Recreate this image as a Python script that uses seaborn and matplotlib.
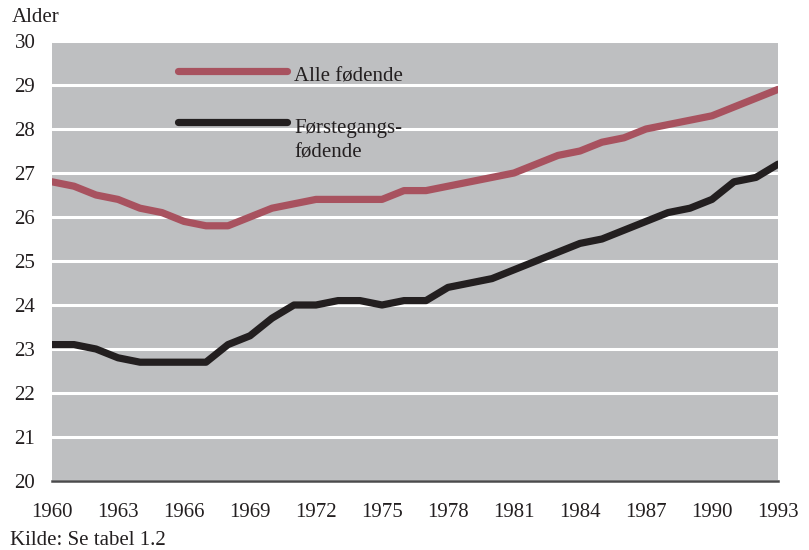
import numpy as np
import pandas as pd
import matplotlib
matplotlib.use("Agg")
import matplotlib.pyplot as plt
import seaborn as sns

years = list(range(1960, 1994))
alle_fodende = [26.8, 26.7, 26.5, 26.4, 26.2, 26.1, 25.9, 25.8, 25.8, 26.0,
                26.2, 26.3, 26.4, 26.4, 26.4, 26.4, 26.6, 26.6, 26.7, 26.8,
                26.9, 27.0, 27.2, 27.4, 27.5, 27.7, 27.8, 28.0, 28.1, 28.2,
                28.3, 28.5, 28.7, 28.9]
forstegangs = [23.1, 23.1, 23.0, 22.8, 22.7, 22.7, 22.7, 22.7, 23.1, 23.3,
               23.7, 24.0, 24.0, 24.1, 24.1, 24.0, 24.1, 24.1, 24.4, 24.5,
               24.6, 24.8, 25.0, 25.2, 25.4, 25.5, 25.7, 25.9, 26.1, 26.2,
               26.4, 26.8, 26.9, 27.2]
series_labels = ["Alle fødende", "Førstegangs-\nfødende"]
x_ticks = list(range(1960, 1994, 3))
y_ticks = list(range(20, 31))

df = pd.DataFrame({
    "År": years * 2,
    "Alder": alle_fodende + forstegangs,
    "Serie": [series_labels[0]] * len(years) + [series_labels[1]] * len(years),
})

sns.set_theme(style="white")
plt.rcParams["font.family"] = ["Liberation Serif", "DejaVu Serif"]

colors = {series_labels[0]: "#A8525F", series_labels[1]: "#231F20"}

W, H = 809, 550
fig = plt.figure(figsize=(W / 100, H / 100), dpi=100)
ax_left, ax_right, ax_top, ax_bot = 52, 778, 41, 481
ax = fig.add_axes([ax_left / W, 1 - ax_bot / H, (ax_right - ax_left) / W,
                   (ax_bot - ax_top) / H])
ax.set_facecolor("#BEBFC1")

sns.lineplot(data=df, x="År", y="Alder", hue="Serie", palette=colors,
             linewidth=5.2, ax=ax, legend=False)
for ln in ax.lines:
    ln.set_solid_capstyle("round")
    ln.set_solid_joinstyle("round")

ax.set_xlim(1960, 1993)
ax.set_ylim(20, 30)
ax.set_xticks(x_ticks)
ax.set_yticks(y_ticks)
ax.set_xticklabels([str(t) for t in x_ticks], fontsize=15)
ax.set_yticklabels([str(t) for t in y_ticks], fontsize=15)
ax.tick_params(axis="x", length=0, pad=16, colors="#231F20")
ax.tick_params(axis="y", length=0, pad=12, colors="#231F20")
ax.yaxis.grid(True, color="white", linewidth=2.2)
ax.xaxis.grid(False)
ax.set_axisbelow(True)
for s in ["top", "right", "left"]:
    ax.spines[s].set_visible(False)
ax.spines["bottom"].set_color("#4A4A4C")
ax.spines["bottom"].set_linewidth(1.8)
ax.set_xlabel("")
ax.set_ylabel("")

# legend drawn inside the plot area (pixel positions converted to axes fraction)
ph = ax_bot - ax_top
line_px = [71, 122]
base_px = [82, 133]
for lab, lp, bp in zip(series_labels, line_px, base_px):
    yy = (ax_bot - lp) / ph
    ax.plot([(178 - ax_left) / (ax_right - ax_left),
             (287 - ax_left) / (ax_right - ax_left)], [yy, yy],
            transform=ax.transAxes, color=colors[lab], linewidth=5.2,
            solid_capstyle="round", clip_on=False)
    for i, part in enumerate(lab.split("\n")):
        ax.text((294 - ax_left) / (ax_right - ax_left),
                (ax_bot - bp - 24 * i) / ph, part, transform=ax.transAxes,
                fontsize=15, va="baseline", ha="left", color="#231F20")

fig.text(12 / W, 1 - 22 / H, "Alder", fontsize=15, va="baseline", ha="left",
         color="#231F20")
fig.text(10 / W, 1 - 545 / H, "Kilde: Se tabel 1.2", fontsize=15,
         va="baseline", ha="left", color="#231F20")

fig.savefig("out.png", dpi=100)
